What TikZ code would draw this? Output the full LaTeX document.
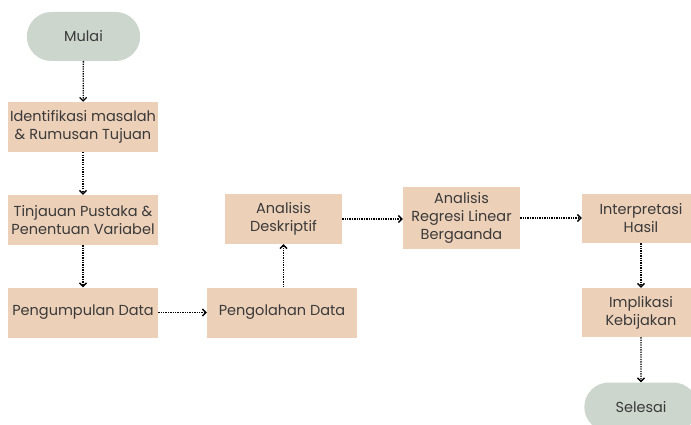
\documentclass[tikz,border=0pt]{standalone}
\usepackage{fontspec}
\setmainfont{Poppins}
\usepackage{xcolor}
\usetikzlibrary{positioning,arrows.meta,shapes.misc}

\definecolor{kotak}{HTML}{EDD0B8}
\definecolor{ujung}{HTML}{CCD6CC}
\definecolor{teks}{HTML}{3A3A3A}

\tikzset{
  proses/.style={rectangle, fill=kotak, text=teks, align=center,
    minimum width=150pt, minimum height=50pt, inner sep=1pt},
  terminal/.style={rounded rectangle, fill=ujung, text=teks,
    minimum width=120pt, minimum height=49pt},
  alur/.style={dash pattern=on 1.3pt off 1.1pt, line width=1.3pt,
    -{Straight Barb[length=3.5pt,width=7pt,line width=1.3pt]}}
}

\begin{document}
\begin{tikzpicture}[x=1pt, y=-1pt, font=\fontsize{14.5}{18}\selectfont]

  \useasboundingbox (0,0) rectangle (691,425);

  % Terminal nodes
  \node[terminal] (mulai) at (83.5,36.5) {Mulai};
  \node[terminal] (selesai) at (641,407) {Selesai};

  % Process boxes
  \node[proses] (identifikasi) at (83,127) {Identifikasi masalah\\\& Rumusan Tujuan};
  \node[proses] (tinjauan) at (83,220) {Tinjauan Pustaka \&\\Penentuan Variabel};
  \node[proses] (pengumpulan) at (83,312.5) {Pengumpulan Data};
  \node[proses] (pengolahan) at (282,312.5) {Pengolahan Data};
  \node[proses, minimum width=117pt] (deskriptif) at (283.5,219) {Analisis\\Deskriptif};
  \node[proses, minimum width=117pt, minimum height=62pt] (regresi) at (461.5,218) {Analisis\\Regresi Linear\\Bergaanda};
  \node[proses, minimum width=118pt, minimum height=49pt] (interpretasi) at (641,218.5) {Interpretasi\\Hasil};
  \node[proses, minimum width=118pt, minimum height=49pt] (implikasi) at (641,312.5) {Implikasi\\Kebijakan};

  % Connectors
  \foreach \dari/\ke in {
    mulai/identifikasi,
    identifikasi/tinjauan,
    tinjauan/pengumpulan,
    pengumpulan/pengolahan,
    interpretasi/implikasi,
    implikasi/selesai}
    \draw[alur] (\dari) -- (\ke);
  \draw[alur] (pengolahan.north -| deskriptif) -- (deskriptif);
  \draw[alur] (deskriptif.east) -- (regresi.west |- deskriptif.east);
  \draw[alur] (regresi) -- (interpretasi.west |- regresi);

\end{tikzpicture}
\end{document}
